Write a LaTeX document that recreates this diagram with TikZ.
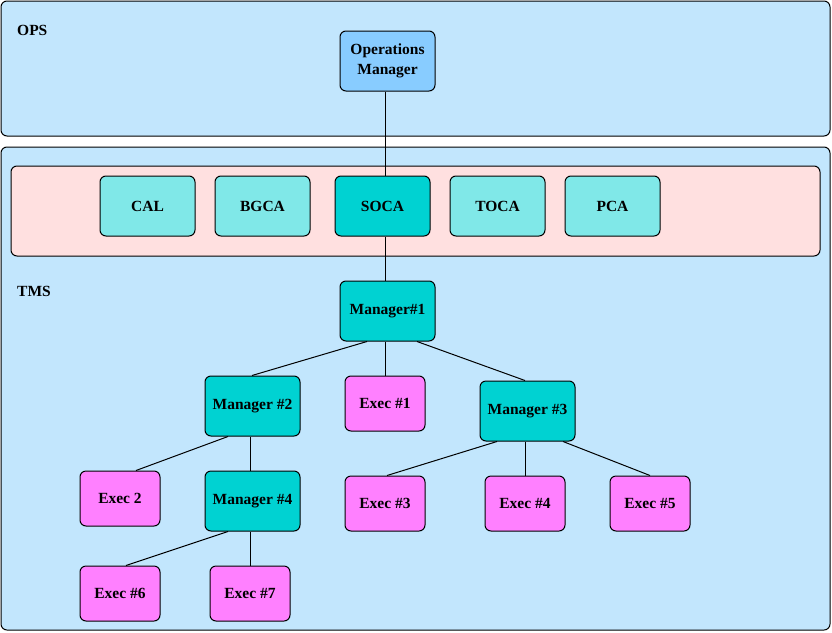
\documentclass[tikz,border=0pt]{standalone}
\usepackage{fontspec}
\setmainfont{Liberation Serif}
\usetikzlibrary{positioning}
\definecolor{areablue}{HTML}{C2E6FD}
\definecolor{bandpink}{HTML}{FFE0E0}
\definecolor{lightteal}{HTML}{80E8E8}
\definecolor{teal2}{HTML}{00D2D2}
\definecolor{execpink}{HTML}{FF80FF}
\definecolor{opsblue}{HTML}{88CCFF}
\tikzset{
  area/.style={draw=black, line width=1pt, rounded corners=6pt},
  box/.style={draw=black, line width=1pt, rounded corners=6pt, inner sep=0pt,
    align=center, font=\fontsize{15.5}{20}\selectfont\bfseries},
  agency/.style={box, fill=lightteal, minimum width=95pt, minimum height=60pt},
  mgr/.style={box, fill=teal2, minimum width=95pt, minimum height=60pt},
  exec/.style={box, fill=execpink, minimum width=80pt, minimum height=55pt},
  link/.style={draw=black, line width=1pt},
  lbl/.style={anchor=west, inner sep=0pt, font=\fontsize{15.5}{20}\selectfont\bfseries}
}
\begin{document}
\begin{tikzpicture}[x=1pt,y=-1pt]
\useasboundingbox (0,0) rectangle (832,632);
% areas
\draw[area, fill=areablue] (1,1) rectangle (830,136);
\draw[area, fill=areablue] (1,147) rectangle (830,630);
\draw[area, fill=bandpink] (11,166) rectangle (820,256);
\node[lbl] (ops) at (17,30) {OPS};
\node[lbl] (tms) at (17,291) {TMS};
% nodes
\node[box, fill=opsblue, minimum width=95pt, minimum height=60pt] (om) at (387.5,61) {Operations\\Manager};
\node[agency] (cal) at (147.5,206) {CAL};
\node[agency] (bgca) at (262.5,206) {BGCA};
\node[mgr] (soca) at (382.5,206) {SOCA};
\node[agency] (toca) at (497.5,206) {TOCA};
\node[agency] (pca) at (612.5,206) {PCA};
\node[mgr] (m1) at (387.5,311) {Manager\#1\rule[-4pt]{0pt}{0pt}};
\node[mgr] (m2) at (252.5,406) {Manager \#2};
\node[exec] (e1) at (385,403.5) {Exec \#1};
\node[mgr] (m3) at (527.5,411) {Manager \#3};
\node[exec] (e2) at (120,498.5) {Exec 2};
\node[mgr] (m4) at (252.5,501) {Manager \#4};
\node[exec] (e3) at (385,503.5) {Exec \#3};
\node[exec] (e4) at (525,503.5) {Exec \#4};
\node[exec] (e5) at (650,503.5) {Exec \#5};
\node[exec] (e6) at (120,593.5) {Exec \#6};
\node[exec] (e7) at (250,593.5) {Exec \#7};
% connectors
\draw[link] ([xshift=-2.5pt]om.south) -- ([xshift=2.5pt]soca.north);
\draw[link] ([xshift=2.5pt]soca.south) -- ([xshift=-2.5pt]m1.north);
\draw[link] ([xshift=-20.5pt]m1.south) -- ([xshift=-0.5pt]m2.north);
\draw[link] ([xshift=-2.5pt]m1.south) -- (e1.north);
\draw[link] ([xshift=29.5pt]m1.south) -- ([xshift=-2.5pt]m3.north);
\draw[link] ([xshift=-24.5pt]m2.south) -- ([xshift=16pt]e2.north);
\draw[link] ([xshift=-2.5pt]m2.south) -- ([xshift=-2.5pt]m4.north);
\draw[link] ([xshift=-30.5pt]m3.south) -- ([xshift=2pt]e3.north);
\draw[link] ([xshift=-2.5pt]m3.south) -- (e4.north);
\draw[link] ([xshift=35.5pt]m3.south) -- (e5.north);
\draw[link] ([xshift=-24.5pt]m4.south) -- ([xshift=6pt]e6.north);
\draw[link] ([xshift=-2.5pt]m4.south) -- (e7.north);
\end{tikzpicture}
\end{document}
